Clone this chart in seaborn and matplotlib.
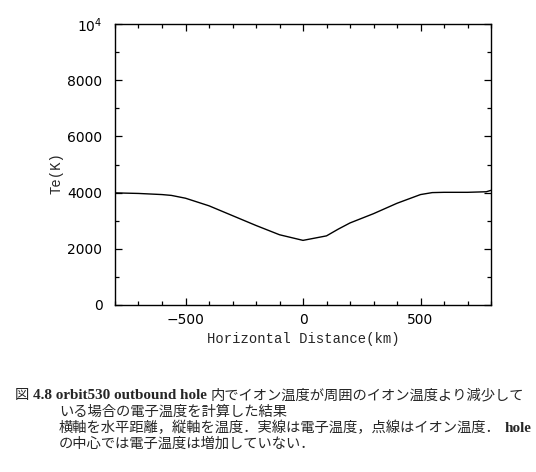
import numpy as np
import pandas as pd
import matplotlib as mpl
from matplotlib import pyplot as plt
from matplotlib.ticker import MultipleLocator, FuncFormatter
import seaborn as sns

# Data (electron temperature across the hole)
distance_km = [-800, -700, -600, -560, -500, -400, -300, -200, -100, -50, 0,
               50, 100, 150, 200, 300, 400, 500, 550, 600, 700, 780, 800]
te_kelvin = [3990, 3970, 3930, 3900, 3800, 3530, 3180, 2830, 2500, 2400, 2300,
             2380, 2460, 2700, 2920, 3250, 3620, 3930, 4000, 4010, 4010, 4030, 4080]

x_label = "Horizontal Distance(km)"
y_label = "Te(K)"

caption_lines = [
    [("図", "cjk"), ("4.8 orbit530 outbound hole", "bold"),
     ("内でイオン温度が周囲のイオン温度より減少して", "cjk")],
    [("いる場合の電子温度を計算した結果", "cjk")],
    [("横軸を水平距離，縦軸を温度．実線は電子温度，点線はイオン温度．", "cjk"),
     ("hole", "bold")],
    [("の中心では電子温度は増加していない．", "cjk")],
]

sns.set_style("ticks")
plt.rcParams['font.family'] = ['DejaVu Sans']
plt.rcParams['mathtext.fontset'] = 'dejavusans'

W, H = 536, 472
fig = plt.figure(figsize=(W / 100, H / 100), dpi=100)
ax = fig.add_axes([115 / W, 1 - 305 / H, 376 / W, 281 / H])

df = pd.DataFrame({"x": distance_km, "te": te_kelvin})
sns.lineplot(data=df, x="x", y="te", ax=ax, color="black", linewidth=1.0)

ax.set_xlim(-800, 800)
ax.set_ylim(0, 10000)
ax.xaxis.set_major_locator(MultipleLocator(500))
ax.xaxis.set_minor_locator(MultipleLocator(100))
ax.yaxis.set_major_locator(MultipleLocator(2000))
ax.yaxis.set_minor_locator(MultipleLocator(1000))
ax.yaxis.set_major_formatter(FuncFormatter(
    lambda v, p: r"$10^4$" if v == 10000 else f"{int(v)}"))

ax.tick_params(which='both', direction='in', top=True, right=True,
               labelsize=10, width=0.9, colors='black')
ax.tick_params(which='major', length=5)
ax.tick_params(axis='x', which='major', pad=6)
ax.tick_params(axis='y', which='major', pad=9)
ax.tick_params(which='minor', length=3)
for s in ax.spines.values():
    s.set_linewidth(1.0)
    s.set_color('black')

ax.set_xlabel(x_label, family='Liberation Mono', fontsize=10)
ax.set_ylabel(y_label, family='Liberation Mono', fontsize=10)
ax.xaxis.set_label_coords(0.5, -(332 - 305) / 281)
ax.yaxis.set_label_coords(-(115 - 64) / 376, 1 - (173 - 24) / 281)

# Caption below the plot, pieces chained left to right
fonts = {
    "cjk": dict(family=['Noto Sans CJK JP', 'DejaVu Sans'], fontsize=10.3),
    "bold": dict(family=['Liberation Serif'], weight='bold', fontsize=10.9),
}
line_starts = [15, 59, 59, 59]
baselines = [399, 416, 432, 448]
for pieces, x0, yb in zip(caption_lines, line_starts, baselines):
    prev = None
    yf = 1 - yb / H
    for txt, kind in pieces:
        if prev is None:
            prev = fig.text(x0 / W, yf, txt, va='baseline', ha='left', **fonts[kind])
        else:
            prev = ax.annotate(txt, xy=(1, yf), xycoords=(prev, 'figure fraction'),
                               xytext=(2.5, 0), textcoords='offset points',
                               va='baseline', ha='left',
                               annotation_clip=False, **fonts[kind])

fig.savefig("out.png", dpi=100)
